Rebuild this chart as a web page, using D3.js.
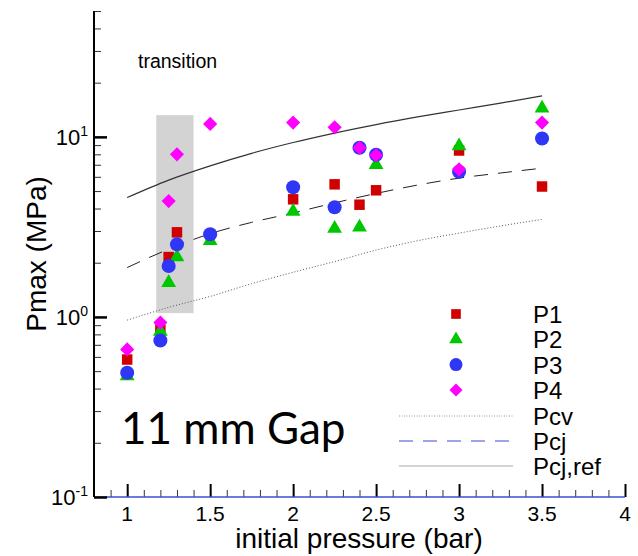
<!DOCTYPE html>
<html>
<head>
<meta charset="utf-8">
<script src="https://cdn.jsdelivr.net/npm/d3@7"></script>
<style>
  body { margin: 0; background: #fff; }
  text { font-family: "Liberation Sans", Arial, sans-serif; }
</style>
</head>
<body>
<script>
// chart size - matches the 638x556 window
var width = 638, height = 556;
var x0 = 94, x1 = 625, y0 = 497, y1 = 11;

// measured peak pressures (MPa) vs initial pressure (bar)
var p1_x = [1, 1.2, 1.25, 1.3, 2, 2.25, 2.4, 2.5, 3, 3.5];
var p1_y = [0.58, 0.85, 2.15, 2.95, 4.5, 5.45, 4.2, 5.05, 8.4, 5.3];
var p2_x = [1, 1.2, 1.25, 1.3, 1.5, 2, 2.25, 2.4, 2.5, 3, 3.5];
var p2_y = [0.47, 0.83, 1.55, 2.15, 2.65, 3.85, 3.1, 3.15, 7.0, 8.9, 14.4];
var p3_x = [1, 1.2, 1.25, 1.3, 1.5, 2, 2.25, 2.4, 2.5, 3, 3.5];
var p3_y = [0.49, 0.74, 1.92, 2.53, 2.88, 5.25, 4.07, 8.7, 7.95, 6.4, 9.8];
var p4_x = [1, 1.2, 1.25, 1.3, 1.5, 2, 2.25, 2.4, 2.5, 3, 3.5];
var p4_y = [0.66, 0.93, 4.4, 8.0, 11.8, 12.0, 11.3, 8.7, 7.9, 6.6, 12.0];

// theoretical curves
var curve_x = [1, 1.25, 1.5, 1.75, 2, 2.25, 2.5, 2.75, 3, 3.25, 3.5];
var pcv_y = [0.96, 1.13, 1.3, 1.53, 1.77, 2.03, 2.35, 2.65, 2.92, 3.2, 3.48];
var pcj_y = [1.88, 2.38, 2.9, 3.35, 3.78, 4.3, 4.85, 5.4, 5.9, 6.3, 6.7];
var pcjref_y = [4.6, 5.75, 6.9, 8.1, 9.3, 10.5, 11.7, 12.9, 14.1, 15.4, 16.9];

// transition band
var band_x = [1.175, 1.4];
var band_y = [1.05, 13.2];

var x_ticks = [1, 1.5, 2, 2.5, 3, 3.5, 4];
var y_decades = [0.1, 1, 10];
var y_exps = ['-1', '0', '1'];

var series = [
	{name: 'P1', xs: p1_x, ys: p1_y, color: '#d00000', shape: d3.symbolSquare, size: 110, rot: 0},
	{name: 'P2', xs: p2_x, ys: p2_y, color: '#00c800', shape: d3.symbolTriangle, size: 95, rot: 0},
	{name: 'P3', xs: p3_x, ys: p3_y, color: '#3036f5', shape: d3.symbolCircle, size: 155, rot: 0},
	{name: 'P4', xs: p4_x, ys: p4_y, color: '#ff00ff', shape: d3.symbolSquare, size: 100, rot: 45}
];
var curves = [
	{name: 'Pcv', ys: pcv_y, color: '#555', legend: '#8a94c8', dash: '1,2', width: 1},
	{name: 'Pcj', ys: pcj_y, color: '#222', legend: '#3a48d8', dash: '14,10', width: 1},
	{name: 'Pcj,ref', ys: pcjref_y, color: '#333', legend: '#c4c4c4', dash: null, width: 1.2}
];

var svg = d3.select('body').append('svg').attr('width', width).attr('height', height);

var xScale = d3.scaleLinear().domain([0.8, 4]).range([x0, x1]);
var yScale = d3.scaleLog().domain([0.1, 50]).range([y0, y1]);

// gray band
svg.append('rect')
	.attr('x', xScale(band_x[0])).attr('y', yScale(band_y[1]))
	.attr('width', xScale(band_x[1]) - xScale(band_x[0]))
	.attr('height', yScale(band_y[0]) - yScale(band_y[1]))
	.attr('fill', '#d3d3d3');

svg.append('text').text('transition')
	.attr('x', 138).attr('y', 68).attr('font-size', '19.5px').attr('fill', '#000');

// axes - ticks point inward
var xMinor = d3.range(8, 41).map(function(d) { return d / 10; });
var xAxisMinor = d3.axisTop(xScale).tickValues(xMinor).tickSize(7).tickFormat('');
var xAxisMajor = d3.axisTop(xScale).tickValues(x_ticks).tickSize(13).tickFormat('');
svg.append('g').attr('transform', 'translate(0,' + y0 + ')').call(xAxisMinor)
	.call(function(g) { g.select('.domain').remove(); g.selectAll('line').attr('stroke', '#333'); });
svg.append('g').attr('transform', 'translate(0,' + y0 + ')').call(xAxisMajor)
	.call(function(g) { g.select('.domain').remove(); g.selectAll('line').attr('stroke', '#000').attr('stroke-width', 2); });
svg.append('line').attr('x1', x0).attr('x2', x1).attr('y1', y0).attr('y2', y0)
	.attr('stroke', '#3a4fd0').attr('stroke-width', 1.5);

svg.selectAll('.xlab').data(x_ticks).enter().append('text')
	.attr('x', function(d) { return xScale(d); }).attr('y', 521)
	.attr('text-anchor', 'middle').attr('font-size', '21px')
	.text(function(d) { return d; });

var yMinor = [];
[0.1, 1, 10].forEach(function(dec) {
	for (var k = 2; k <= 9; k++) if (dec * k <= 50) yMinor.push(dec * k);
});
var yAxisMinor = d3.axisRight(yScale).tickValues(yMinor).tickSize(7).tickFormat('');
var yAxisMajor = d3.axisRight(yScale).tickValues(y_decades).tickSize(13).tickFormat('');
svg.append('g').attr('transform', 'translate(' + x0 + ',0)').call(yAxisMinor)
	.call(function(g) { g.select('.domain').remove(); g.selectAll('line').attr('stroke', '#333'); });
svg.append('g').attr('transform', 'translate(' + x0 + ',0)').call(yAxisMajor)
	.call(function(g) { g.select('.domain').remove(); g.selectAll('line').attr('stroke', '#000').attr('stroke-width', 2.5); });
svg.append('line').attr('x1', x0).attr('x2', x0).attr('y1', y1).attr('y2', y0)
	.attr('stroke', '#000').attr('stroke-width', 2);

var ylab = svg.selectAll('.ylab').data(y_decades).enter().append('text')
	.attr('x', 88).attr('y', function(d) { return yScale(d) + 8; })
	.attr('text-anchor', 'end').attr('font-size', '22px');
ylab.append('tspan').text('10');
ylab.append('tspan').attr('dy', -9).attr('font-size', '14px')
	.text(function(d, i) { return y_exps[i]; });

// axis titles
svg.append('text').text('initial pressure (bar)')
	.attr('x', 359).attr('y', 548).attr('text-anchor', 'middle').attr('font-size', '28px');
svg.append('text').text('Pmax (MPa)')
	.attr('transform', 'translate(46,254) rotate(-90)').attr('text-anchor', 'middle').attr('font-size', '28px');

// curves
var line = d3.line()
	.x(function(d, i) { return xScale(curve_x[i]); })
	.y(function(d) { return yScale(d); })
	.curve(d3.curveMonotoneX);
curves.forEach(function(c) {
	svg.append('path').datum(c.ys).attr('d', line)
		.attr('fill', 'none').attr('stroke', c.color).attr('stroke-width', c.width)
		.attr('stroke-dasharray', c.dash);
});

// markers
series.forEach(function(s) {
	svg.append('g').selectAll('path').data(s.ys).enter().append('path')
		.attr('d', d3.symbol().type(s.shape).size(s.size))
		.attr('transform', function(d, i) {
			return 'translate(' + xScale(s.xs[i]) + ',' + yScale(d) + ') rotate(' + s.rot + ')';
		})
		.attr('fill', s.color);
});

svg.append('text').text('11 mm Gap')
	.attr('x', 121).attr('y', 444).attr('font-size', '44px')
	.style('font-family', 'Lato, "Open Sans", sans-serif');

// legend
var leg = svg.append('g');
series.forEach(function(s, i) {
	var ly = 314 + i * 25.3;
	leg.append('path').attr('d', d3.symbol().type(s.shape).size(s.size * 0.85))
		.attr('transform', 'translate(456,' + ly + ') rotate(' + s.rot + ')').attr('fill', s.color);
	leg.append('text').text(s.name).attr('x', 533).attr('y', ly + 9).attr('font-size', '24px');
});
curves.forEach(function(c, i) {
	var ly = 416 + i * 25;
	leg.append('line').attr('x1', 399).attr('x2', 513).attr('y1', ly).attr('y2', ly)
		.attr('stroke', c.legend).attr('stroke-width', c.dash ? 1 : 1.5)
		.attr('stroke-dasharray', c.dash ? (c.name == 'Pcj' ? '14,10' : '1,1.5') : null);
	leg.append('text').text(c.name).attr('x', 533).attr('y', ly + 9).attr('font-size', '24px');
});
</script>
</body>
</html>
